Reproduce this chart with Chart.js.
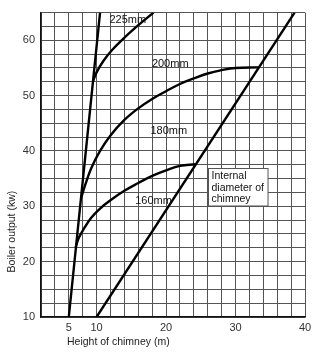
<!DOCTYPE html>
<html>
<head>
<meta charset="utf-8">
<script src="https://cdn.jsdelivr.net/npm/chart.js@4.4.1/dist/chart.umd.min.js"></script>
<style>
    html, body { margin: 0; padding: 0; background: #fff; }
</style>
</head>
<body>
<canvas id="chimneyChart" width="323" height="355"></canvas>
<script>
// titik kurva (x = tinggi cerobong, y = output boiler)
const steepX = [6, 10.5];
const steepY = [10, 65];
const c225X = [9.5, 10.0, 11.0, 12.2, 13.6, 15.8, 18.2];
const c225Y = [52.6, 54.2, 56.3, 58.2, 60.0, 62.5, 65];
const c200X = [7.8, 8.4, 9.2, 10.5, 12.0, 14.0, 16.0, 18.0, 20.0, 22.0, 24.0, 26.0, 28.0, 30.0, 33.3];
const c200Y = [31.6, 34.0, 36.8, 40.0, 42.8, 45.6, 47.7, 49.4, 50.8, 52.1, 53.1, 54.0, 54.6, 55.0, 55.1];
const c180X = [7.0, 7.4, 8.2, 9.2, 10.5, 12.0, 14.0, 16.0, 18.0, 20.0, 22.0, 24.2];
const c180Y = [22.6, 24.2, 26.0, 27.9, 29.6, 31.1, 32.8, 34.2, 35.5, 36.5, 37.3, 37.6];
const diagX = [10, 38.5];
const diagY = [10, 65];

// label kurva
const curveLabels = ['225mm', '200mm', '180mm', '160mm'];
const curveLabelX = [14.5, 20.6, 20.4, 18.2];
const curveLabelY = [63.7, 55.8, 43.6, 31.0];
const boxLines = ['Internal', 'diameter of', 'chimney'];
const boxX = 26.1, boxY = 37.0;

// label sumbu
const xTickValues = [6, 10, 20, 30, 40];
const xTickText = ['5', '10', '20', '30', '40'];
const yTickValues = [10, 20, 30, 40, 50, 60];

const xGrid = [];
for (let v = 2; v <= 40; v += 2) xGrid.push(v);
const yGrid = [];
for (let v = 10; v <= 65; v += 2.5) yGrid.push(v);

const toPoints = (xs, ys) => xs.map((x, i) => ({ x: x, y: ys[i] }));

const lineStyle = {
    showLine: true,
    borderColor: '#000',
    borderWidth: 2.4,
    pointRadius: 0,
    fill: false
};

const FONT = '"Liberation Sans", Arial, sans-serif';

const annotate = {
    id: 'annotate',
    afterDatasetsDraw(chart) {
        const { ctx, scales: { x, y }, chartArea } = chart;
        ctx.save();
        ctx.fillStyle = '#111';
        ctx.font = '11px ' + FONT;
        ctx.textAlign = 'center';
        ctx.textBaseline = 'middle';
        curveLabels.forEach((t, i) => {
            ctx.fillText(t, x.getPixelForValue(curveLabelX[i]), y.getPixelForValue(curveLabelY[i]));
        });

        // kotak keterangan
        const bx = Math.round(x.getPixelForValue(boxX)) + 0.5;
        const by = Math.round(y.getPixelForValue(boxY)) + 0.5;
        ctx.font = '10.5px ' + FONT;
        const w = Math.max(...boxLines.map(t => ctx.measureText(t).width)) + 7;
        const h = boxLines.length * 11.5 + 3;
        ctx.fillStyle = '#fff';
        ctx.fillRect(bx, by, w, h);
        ctx.strokeStyle = '#555';
        ctx.lineWidth = 1;
        ctx.strokeRect(bx, by, w, h);
        ctx.fillStyle = '#111';
        ctx.textAlign = 'left';
        boxLines.forEach((t, i) => ctx.fillText(t, bx + 3, by + 8 + i * 11.5));

        // judul sumbu
        ctx.fillStyle = '#222';
        ctx.font = '10.5px ' + FONT;
        ctx.fillText('Height of chimney (m)', chartArea.left + 26, chartArea.bottom + 25);
        ctx.translate(12, chartArea.top + 219);
        ctx.rotate(-Math.PI / 2);
        ctx.textAlign = 'center';
        ctx.fillText('Boiler output (kw)', 0, 0);
        ctx.restore();
    }
};

const ctx = document.getElementById('chimneyChart').getContext('2d');
const chimneyChart = new Chart(ctx, {
    type: 'scatter',
    data: {
        datasets: [
            Object.assign({ data: toPoints(steepX, steepY) }, lineStyle),
            Object.assign({ data: toPoints(c225X, c225Y), tension: 0.4 }, lineStyle),
            Object.assign({ data: toPoints(c200X, c200Y), tension: 0.4 }, lineStyle),
            Object.assign({ data: toPoints(c180X, c180Y), tension: 0.4 }, lineStyle),
            Object.assign({ data: toPoints(diagX, diagY) }, lineStyle)
        ]
    },
    options: {
        responsive: false,
        animation: false,
        devicePixelRatio: 1,
        layout: { padding: { top: 11, right: 18, left: 0, bottom: 0 } },
        plugins: {
            legend: { display: false },
            tooltip: { enabled: false }
        },
        scales: {
            x: {
                type: 'linear',
                min: 2,
                max: 40,
                afterBuildTicks: s => { s.ticks = xGrid.map(v => ({ value: v })); },
                afterFit: s => { s.height = 38; },
                ticks: {
                    autoSkip: false,
                    maxRotation: 0,
                    padding: 4,
                    color: '#333',
                    font: { size: 11, family: FONT },
                    callback: v => {
                        const i = xTickValues.indexOf(v);
                        return i >= 0 ? xTickText[i] : '';
                    }
                },
                grid: { color: '#555', lineWidth: 1, drawTicks: false },
                border: { color: '#111', width: 1.5 }
            },
            y: {
                type: 'linear',
                min: 10,
                max: 65,
                afterBuildTicks: s => { s.ticks = yGrid.map(v => ({ value: v })); },
                afterFit: s => { s.width = 41; },
                ticks: {
                    autoSkip: false,
                    padding: 6,
                    color: '#333',
                    font: { size: 11, family: FONT },
                    callback: v => (yTickValues.indexOf(v) >= 0 ? String(v) : '')
                },
                grid: { color: '#555', lineWidth: 1, drawTicks: false },
                border: { color: '#111', width: 1.5 }
            }
        }
    },
    plugins: [annotate]
});
</script>
</body>
</html>
